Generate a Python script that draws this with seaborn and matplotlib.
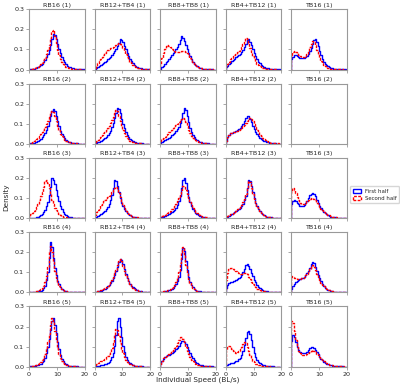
import numpy as np
import pandas as pd
import matplotlib
matplotlib.use("Agg")
import matplotlib.pyplot as plt
from matplotlib.patches import Patch
import seaborn as sns

conditions = ["RB16", "RB12+TB4", "RB8+TB8", "RB4+TB12", "TB16"]
trials = [1, 2, 3, 4, 5]
# speed bin centres (BL/s), bin width 0.5
speed_centres = [0.25, 0.75, 1.25, 1.75, 2.25, 2.75, 3.25, 3.75, 4.25, 4.75,
                 5.25, 5.75, 6.25, 6.75, 7.25, 7.75, 8.25, 8.75, 9.25, 9.75,
                 10.25, 10.75, 11.25, 11.75, 12.25, 12.75, 13.25, 13.75, 14.25, 14.75,
                 15.25, 15.75, 16.25, 16.75, 17.25, 17.75, 18.25, 18.75, 19.25, 19.75]

# density per bin, one list per trial (1..5); None = no data
rb16_first = [
    [0.002,0.003,0.004,0.005, 0.007,0.009,0.012,0.016, 0.021,0.027,0.036,0.046, 0.06,0.076,0.097,0.12,
     0.15,0.175,0.17,0.15, 0.125,0.1,0.08,0.062, 0.047,0.036,0.027,0.02, 0.015,0.011,0.008,0.006,
     0.005,0.004,0.003,0.002, 0.002,0.001,0.001,0.001],
    [0.001,0.002,0.003,0.005, 0.007,0.01,0.014,0.019, 0.025,0.032,0.042,0.054, 0.07,0.09,0.113,0.14,
     0.165,0.175,0.165,0.14, 0.112,0.087,0.066,0.05, 0.037,0.027,0.02,0.015, 0.011,0.008,0.006,0.004,
     0.003,0.002,0.002,0.001, 0.001,0.001,0.001,0.0],
    [0.001,0.001,0.002,0.002, 0.003,0.004,0.006,0.009, 0.013,0.019,0.028,0.04, 0.058,0.082,0.115,0.155,
     0.2,0.192,0.17,0.142, 0.112,0.083,0.06,0.043, 0.03,0.021,0.015,0.01, 0.007,0.005,0.004,0.003,
     0.002,0.001,0.001,0.001, 0.001,0.0,0.0,0.0],
    [0.001,0.001,0.002,0.002, 0.003,0.004,0.005,0.007, 0.009,0.013,0.02,0.033, 0.06,0.1,0.17,0.25,
     0.228,0.17,0.12,0.085, 0.058,0.04,0.027,0.018, 0.012,0.008,0.006,0.004, 0.003,0.002,0.002,0.001,
     0.001,0.001,0.001,0.0, 0.0,0.0,0.0,0.0],
    [0.001,0.002,0.002,0.003, 0.004,0.006,0.008,0.011, 0.015,0.021,0.03,0.045, 0.068,0.1,0.14,0.185,
     0.225,0.24,0.21,0.17, 0.125,0.088,0.06,0.04, 0.027,0.018,0.012,0.008, 0.005,0.004,0.003,0.002,
     0.001,0.001,0.001,0.0, 0.0,0.0,0.0,0.0],
]
rb16_second = [
    [0.002,0.003,0.004,0.006, 0.008,0.011,0.015,0.02, 0.026,0.034,0.045,0.058, 0.075,0.097,0.123,0.155,
     0.19,0.195,0.165,0.13, 0.098,0.072,0.053,0.039, 0.028,0.02,0.015,0.011, 0.008,0.006,0.004,0.003,
     0.002,0.002,0.001,0.001, 0.001,0.001,0.0,0.0],
    [0.003,0.006,0.009,0.013, 0.018,0.024,0.031,0.039, 0.048,0.058,0.07,0.083, 0.098,0.115,0.135,0.153,
     0.165,0.158,0.138,0.115, 0.09,0.068,0.05,0.037, 0.027,0.02,0.015,0.011, 0.008,0.006,0.004,0.003,
     0.002,0.002,0.001,0.001, 0.001,0.001,0.0,0.0],
    [0.012,0.018,0.025,0.033, 0.043,0.055,0.07,0.088, 0.108,0.13,0.155,0.185, 0.19,0.175,0.148,0.118,
     0.092,0.07,0.052,0.038, 0.028,0.02,0.015,0.011, 0.008,0.006,0.004,0.003, 0.002,0.002,0.001,0.001,
     0.001,0.001,0.0,0.0, 0.0,0.0,0.0,0.0],
    [0.001,0.002,0.003,0.004, 0.005,0.007,0.009,0.012, 0.016,0.022,0.032,0.05, 0.08,0.125,0.2,0.23,
     0.2,0.15,0.105,0.072, 0.05,0.034,0.023,0.016, 0.011,0.007,0.005,0.004, 0.003,0.002,0.001,0.001,
     0.001,0.001,0.0,0.0, 0.0,0.0,0.0,0.0],
    [0.002,0.003,0.004,0.005, 0.007,0.009,0.012,0.017, 0.023,0.032,0.045,0.064, 0.09,0.125,0.165,0.21,
     0.24,0.225,0.18,0.135, 0.095,0.065,0.044,0.029, 0.019,0.013,0.009,0.006, 0.004,0.003,0.002,0.002,
     0.001,0.001,0.0,0.0, 0.0,0.0,0.0,0.0],
]
rb12_tb4_first = [
    [0.003,0.008,0.013,0.018, 0.023,0.028,0.033,0.038, 0.044,0.05,0.057,0.064, 0.072,0.081,0.092,0.104,
     0.118,0.134,0.15,0.148, 0.135,0.118,0.1,0.083, 0.067,0.053,0.041,0.032, 0.024,0.018,0.013,0.01,
     0.008,0.006,0.004,0.003, 0.002,0.002,0.001,0.001],
    [0.002,0.004,0.007,0.01, 0.014,0.018,0.023,0.029, 0.036,0.044,0.054,0.066, 0.082,0.102,0.127,0.155,
     0.18,0.175,0.152,0.125, 0.1,0.078,0.06,0.046, 0.035,0.026,0.019,0.014, 0.01,0.008,0.006,0.004,
     0.003,0.002,0.002,0.001, 0.001,0.001,0.0,0.0],
    [0.004,0.007,0.01,0.014, 0.018,0.023,0.029,0.036, 0.045,0.056,0.07,0.088, 0.115,0.15,0.188,0.185,
     0.16,0.13,0.1,0.077, 0.058,0.044,0.033,0.025, 0.018,0.013,0.01,0.007, 0.005,0.004,0.003,0.002,
     0.002,0.001,0.001,0.001, 0.001,0.0,0.0,0.0],
    [0.002,0.003,0.005,0.007, 0.009,0.012,0.015,0.019, 0.024,0.03,0.038,0.047, 0.058,0.072,0.088,0.106,
     0.127,0.15,0.168,0.162, 0.14,0.115,0.092,0.073, 0.057,0.044,0.034,0.026, 0.02,0.015,0.011,0.008,
     0.006,0.005,0.004,0.003, 0.002,0.002,0.001,0.001],
    [0.002,0.003,0.004,0.005, 0.006,0.008,0.01,0.012, 0.015,0.019,0.025,0.034, 0.048,0.07,0.105,0.16,
     0.225,0.24,0.2,0.148, 0.105,0.073,0.05,0.034, 0.023,0.016,0.011,0.008, 0.005,0.004,0.003,0.002,
     0.001,0.001,0.001,0.0, 0.0,0.0,0.0,0.0],
]
rb12_tb4_second = [
    [0.008,0.02,0.032,0.042, 0.052,0.062,0.072,0.082, 0.09,0.097,0.102,0.106, 0.109,0.112,0.116,0.12,
     0.125,0.13,0.128,0.12, 0.108,0.093,0.078,0.063, 0.05,0.04,0.031,0.024, 0.018,0.014,0.01,0.008,
     0.006,0.004,0.003,0.002, 0.002,0.001,0.001,0.001],
    [0.006,0.013,0.02,0.028, 0.036,0.044,0.052,0.061, 0.07,0.08,0.091,0.103, 0.117,0.133,0.152,0.17,
     0.165,0.14,0.112,0.088, 0.068,0.052,0.04,0.03, 0.022,0.016,0.012,0.009, 0.007,0.005,0.004,0.003,
     0.002,0.002,0.001,0.001, 0.001,0.0,0.0,0.0],
    [0.015,0.028,0.04,0.052, 0.063,0.073,0.083,0.092, 0.1,0.106,0.111,0.118, 0.128,0.14,0.152,0.155,
     0.145,0.125,0.103,0.082, 0.063,0.048,0.036,0.027, 0.02,0.015,0.011,0.008, 0.006,0.005,0.004,0.003,
     0.002,0.002,0.001,0.001, 0.001,0.0,0.0,0.0],
    [0.003,0.004,0.006,0.008, 0.011,0.014,0.018,0.022, 0.027,0.034,0.042,0.052, 0.064,0.078,0.095,0.114,
     0.135,0.155,0.165,0.155, 0.132,0.108,0.086,0.068, 0.053,0.041,0.032,0.024, 0.018,0.014,0.01,0.008,
     0.006,0.004,0.003,0.002, 0.002,0.001,0.001,0.001],
    [0.008,0.013,0.018,0.022, 0.026,0.03,0.035,0.04, 0.046,0.053,0.062,0.074, 0.092,0.12,0.158,0.19,
     0.185,0.155,0.12,0.09, 0.066,0.048,0.034,0.024, 0.017,0.012,0.008,0.006, 0.004,0.003,0.002,0.002,
     0.001,0.001,0.0,0.0, 0.0,0.0,0.0,0.0],
]
rb8_tb8_first = [
    [0.004,0.012,0.02,0.028, 0.036,0.044,0.052,0.061, 0.07,0.08,0.09,0.101, 0.114,0.128,0.145,0.165,
     0.158,0.14,0.12,0.1, 0.082,0.066,0.052,0.04, 0.03,0.022,0.016,0.012, 0.009,0.007,0.005,0.004,
     0.003,0.002,0.002,0.001, 0.001,0.001,0.0,0.0],
    [0.006,0.01,0.014,0.018, 0.022,0.026,0.031,0.036, 0.042,0.048,0.055,0.063, 0.073,0.086,0.102,0.122,
     0.152,0.18,0.17,0.14, 0.108,0.08,0.06,0.045, 0.033,0.025,0.018,0.013, 0.01,0.007,0.005,0.004,
     0.003,0.002,0.002,0.001, 0.001,0.001,0.0,0.0],
    [0.004,0.006,0.008,0.01, 0.013,0.016,0.019,0.023, 0.028,0.034,0.042,0.052, 0.066,0.085,0.112,0.15,
     0.19,0.2,0.175,0.138, 0.105,0.079,0.06,0.045, 0.034,0.025,0.019,0.014, 0.01,0.008,0.006,0.004,
     0.003,0.002,0.002,0.001, 0.001,0.001,0.0,0.0],
    [0.002,0.003,0.004,0.005, 0.007,0.009,0.011,0.014, 0.018,0.023,0.03,0.04, 0.055,0.078,0.112,0.165,
     0.22,0.205,0.155,0.11, 0.077,0.054,0.038,0.027, 0.019,0.013,0.009,0.007, 0.005,0.004,0.003,0.002,
     0.002,0.001,0.001,0.001, 0.0,0.0,0.0,0.0],
    [0.015,0.03,0.04,0.047, 0.052,0.056,0.06,0.064, 0.068,0.073,0.079,0.086, 0.095,0.105,0.116,0.126,
     0.13,0.125,0.114,0.1, 0.084,0.068,0.054,0.042, 0.032,0.024,0.018,0.014, 0.01,0.008,0.006,0.004,
     0.003,0.002,0.002,0.001, 0.001,0.001,0.0,0.0],
]
rb8_tb8_second = [
    [0.03,0.055,0.08,0.1, 0.115,0.12,0.117,0.11, 0.102,0.095,0.09,0.088, 0.087,0.087,0.088,0.09,
     0.091,0.09,0.087,0.08, 0.07,0.058,0.046,0.036, 0.028,0.021,0.016,0.012, 0.009,0.007,0.005,0.004,
     0.003,0.002,0.002,0.001, 0.001,0.001,0.0,0.0],
    [0.015,0.022,0.029,0.036, 0.043,0.05,0.057,0.064, 0.071,0.078,0.085,0.092, 0.1,0.108,0.116,0.124,
     0.13,0.125,0.11,0.09, 0.07,0.054,0.041,0.031, 0.024,0.018,0.013,0.01, 0.007,0.005,0.004,0.003,
     0.002,0.002,0.001,0.001, 0.001,0.0,0.0,0.0],
    [0.008,0.011,0.014,0.017, 0.021,0.025,0.03,0.036, 0.043,0.051,0.06,0.071, 0.085,0.1,0.12,0.142,
     0.16,0.158,0.142,0.122, 0.1,0.081,0.065,0.052, 0.041,0.032,0.025,0.019, 0.015,0.011,0.008,0.006,
     0.005,0.004,0.003,0.002, 0.002,0.001,0.001,0.001],
    [0.003,0.004,0.005,0.007, 0.009,0.011,0.014,0.018, 0.023,0.03,0.039,0.052, 0.072,0.1,0.145,0.2,
     0.225,0.185,0.135,0.095, 0.066,0.046,0.032,0.023, 0.016,0.011,0.008,0.006, 0.004,0.003,0.002,0.002,
     0.001,0.001,0.001,0.0, 0.0,0.0,0.0,0.0],
    [0.015,0.03,0.041,0.049, 0.055,0.06,0.065,0.07, 0.076,0.083,0.092,0.103, 0.117,0.133,0.148,0.15,
     0.14,0.122,0.1,0.08, 0.062,0.047,0.035,0.026, 0.019,0.014,0.01,0.007, 0.005,0.004,0.003,0.002,
     0.002,0.001,0.001,0.001, 0.0,0.0,0.0,0.0],
]
rb4_tb12_first = [
    [0.012,0.02,0.028,0.035, 0.042,0.048,0.054,0.06, 0.066,0.072,0.079,0.087, 0.097,0.11,0.128,0.148,
     0.15,0.138,0.12,0.1, 0.082,0.066,0.052,0.04, 0.031,0.024,0.018,0.014, 0.01,0.008,0.006,0.004,
     0.003,0.002,0.002,0.001, 0.001,0.001,0.001,0.0],
    [0.015,0.035,0.046,0.052, 0.055,0.057,0.06,0.063, 0.067,0.072,0.079,0.088, 0.1,0.114,0.13,0.14,
     0.137,0.125,0.108,0.09, 0.074,0.06,0.048,0.039, 0.031,0.025,0.02,0.016, 0.012,0.009,0.007,0.005,
     0.004,0.003,0.002,0.002, 0.001,0.001,0.001,0.0],
    [0.005,0.008,0.011,0.015, 0.019,0.023,0.028,0.033, 0.038,0.044,0.051,0.06, 0.072,0.088,0.112,0.148,
     0.19,0.185,0.158,0.128, 0.1,0.077,0.059,0.045, 0.034,0.026,0.02,0.015, 0.011,0.008,0.006,0.005,
     0.004,0.003,0.002,0.002, 0.001,0.001,0.001,0.0],
    [0.02,0.035,0.045,0.05, 0.053,0.056,0.059,0.062, 0.066,0.071,0.078,0.087, 0.1,0.118,0.138,0.14,
     0.13,0.115,0.098,0.08, 0.064,0.05,0.038,0.029, 0.022,0.016,0.012,0.009, 0.007,0.005,0.004,0.003,
     0.002,0.002,0.001,0.001, 0.001,0.0,0.0,0.0],
    [0.006,0.01,0.013,0.016, 0.018,0.02,0.023,0.026, 0.03,0.036,0.045,0.06, 0.08,0.108,0.145,0.175,
     0.18,0.165,0.135,0.1, 0.07,0.048,0.033,0.023, 0.016,0.011,0.008,0.006, 0.004,0.003,0.002,0.002,
     0.001,0.001,0.001,0.0, 0.0,0.0,0.0,0.0],
]
rb4_tb12_second = [
    [0.018,0.03,0.04,0.05, 0.058,0.065,0.072,0.079, 0.086,0.094,0.103,0.114, 0.128,0.143,0.155,0.15,
     0.13,0.108,0.087,0.068, 0.052,0.04,0.03,0.022, 0.016,0.012,0.009,0.007, 0.005,0.004,0.003,0.002,
     0.002,0.001,0.001,0.001, 0.001,0.0,0.0,0.0],
    [0.015,0.035,0.046,0.052, 0.055,0.057,0.059,0.062, 0.065,0.069,0.074,0.08, 0.087,0.095,0.105,0.115,
     0.125,0.13,0.126,0.115, 0.1,0.085,0.07,0.057, 0.046,0.037,0.029,0.023, 0.018,0.014,0.011,0.008,
     0.006,0.005,0.004,0.003, 0.002,0.002,0.001,0.001],
    [0.007,0.01,0.014,0.018, 0.022,0.027,0.032,0.037, 0.043,0.05,0.057,0.066, 0.078,0.094,0.118,0.152,
     0.185,0.18,0.152,0.122, 0.095,0.073,0.056,0.043, 0.033,0.025,0.019,0.014, 0.011,0.008,0.006,0.005,
     0.004,0.003,0.002,0.002, 0.001,0.001,0.001,0.0],
    [0.06,0.095,0.115,0.122, 0.122,0.118,0.112,0.106, 0.101,0.097,0.094,0.093, 0.095,0.098,0.097,0.09,
     0.078,0.065,0.052,0.041, 0.032,0.025,0.019,0.015, 0.011,0.008,0.006,0.005, 0.004,0.003,0.002,0.002,
     0.001,0.001,0.001,0.0, 0.0,0.0,0.0,0.0],
    [0.085,0.1,0.105,0.098, 0.088,0.078,0.072,0.07, 0.072,0.078,0.088,0.1, 0.115,0.125,0.12,0.1,
     0.078,0.058,0.042,0.03, 0.021,0.015,0.011,0.008, 0.006,0.004,0.003,0.002, 0.002,0.001,0.001,0.001,
     0.0,0.0,0.0,0.0, 0.0,0.0,0.0,0.0],
]
tb16_first = [
    [0.05,0.062,0.07,0.07, 0.066,0.062,0.058,0.056, 0.056,0.058,0.062,0.068, 0.078,0.092,0.108,0.126,
     0.145,0.15,0.138,0.115, 0.09,0.07,0.053,0.04, 0.03,0.022,0.016,0.012, 0.009,0.007,0.005,0.004,
     0.003,0.002,0.002,0.001, 0.001,0.001,0.001,0.0],
    None,
    [0.07,0.085,0.09,0.085, 0.076,0.068,0.062,0.06, 0.062,0.067,0.075,0.086, 0.1,0.113,0.122,0.125,
     0.12,0.108,0.092,0.076, 0.062,0.05,0.04,0.032, 0.025,0.019,0.015,0.011, 0.008,0.006,0.005,0.004,
     0.003,0.002,0.002,0.001, 0.001,0.001,0.0,0.0],
    [0.015,0.03,0.042,0.052, 0.058,0.063,0.067,0.07, 0.074,0.079,0.086,0.095, 0.107,0.122,0.14,0.15,
     0.145,0.128,0.108,0.088, 0.07,0.055,0.042,0.032, 0.024,0.018,0.014,0.01, 0.008,0.006,0.004,0.003,
     0.002,0.002,0.001,0.001, 0.001,0.0,0.0,0.0],
    [0.13,0.16,0.15,0.125, 0.1,0.085,0.075,0.07, 0.068,0.068,0.07,0.075, 0.085,0.095,0.1,0.099,
     0.093,0.083,0.072,0.061, 0.05,0.04,0.032,0.025, 0.019,0.015,0.011,0.009, 0.007,0.005,0.004,0.003,
     0.002,0.002,0.001,0.001, 0.001,0.0,0.0,0.0],
]
tb16_second = [
    [0.07,0.085,0.09,0.088, 0.08,0.072,0.065,0.061, 0.06,0.062,0.068,0.078, 0.092,0.11,0.128,0.14,
     0.138,0.12,0.098,0.077, 0.058,0.044,0.033,0.025, 0.018,0.013,0.01,0.007, 0.005,0.004,0.003,0.002,
     0.002,0.001,0.001,0.001, 0.001,0.0,0.0,0.0],
    None,
    [0.13,0.15,0.142,0.125, 0.105,0.088,0.077,0.071, 0.07,0.072,0.077,0.083, 0.09,0.096,0.1,0.1,
     0.096,0.088,0.077,0.066, 0.056,0.047,0.039,0.032, 0.026,0.021,0.016,0.013, 0.01,0.008,0.006,0.005,
     0.004,0.003,0.002,0.002, 0.001,0.001,0.001,0.0],
    [0.082,0.078,0.074,0.071, 0.069,0.068,0.068,0.07, 0.073,0.078,0.085,0.094, 0.105,0.118,0.13,0.135,
     0.128,0.112,0.094,0.077, 0.062,0.049,0.038,0.03, 0.023,0.018,0.013,0.01, 0.008,0.006,0.004,0.003,
     0.002,0.002,0.001,0.001, 0.001,0.0,0.0,0.0],
    [0.225,0.22,0.18,0.135, 0.1,0.08,0.068,0.062, 0.058,0.057,0.059,0.063, 0.069,0.075,0.08,0.081,
     0.078,0.072,0.064,0.056, 0.047,0.039,0.032,0.026, 0.021,0.016,0.013,0.01, 0.008,0.006,0.005,0.004,
     0.003,0.002,0.002,0.001, 0.001,0.001,0.0,0.0],
]

first_half = [rb16_first, rb12_tb4_first, rb8_tb8_first, rb4_tb12_first, tb16_first]
second_half = [rb16_second, rb12_tb4_second, rb8_tb8_second, rb4_tb12_second, tb16_second]

sns.set_style("white")
plt.rcParams["font.family"] = ["DejaVu Sans"]

fig, axes = plt.subplots(5, 5, figsize=(4.0, 3.87), dpi=100, sharex=True, sharey=True)
fig.subplots_adjust(left=0.0725, right=0.8675, bottom=0.0525, top=0.976,
                    wspace=0.17, hspace=0.233)

bin_edges = [float(e) for e in np.arange(-0.5, 20.75, 0.5)]
spine_col = "0.6"
dash = (0, (2.0, 1.0))

for r, trial in enumerate(trials):
    for c, cond in enumerate(conditions):
        ax = axes[r, c]
        for series, color, ls in ((first_half, "blue", "-"),
                                  (second_half, "red", dash)):
            vals = series[c][r]
            if vals is None:
                continue
            df = pd.DataFrame({"speed": speed_centres, "density": vals})
            sns.histplot(data=df, x="speed", weights="density", bins=bin_edges,
                         stat="count", element="step", fill=False,
                         color=color, linestyle=ls, linewidth=1.0, ax=ax)
        ax.set_xlim(0, 20)
        ax.set_ylim(0, 0.3)
        ax.set_xlabel("")
        ax.set_ylabel("")
        ax.set_title(f"{cond} ({trial})", fontsize=4.6, pad=2)
        ax.set_xticks([0, 10, 20])
        ax.set_yticks([0.0, 0.1, 0.2, 0.3])
        ax.tick_params(axis="both", labelsize=4.6, length=2, width=0.6,
                       color=spine_col, pad=1.5, left=True, bottom=True)
        for sp in ax.spines.values():
            sp.set_color(spine_col)
            sp.set_linewidth(0.8)

for ax in axes[:, 0]:
    ax.yaxis.set_major_formatter(matplotlib.ticker.FormatStrFormatter("%.1f"))

fig.text(0.015, 0.49, "Density", rotation=90, ha="center", va="center", fontsize=5.2)
fig.text(0.495, 0.018, "Individual Speed (BL/s)", ha="center", va="center", fontsize=5.2)

handles = [Patch(facecolor="none", edgecolor="blue", linewidth=1.0, label="First half"),
           Patch(facecolor="none", edgecolor="red", linewidth=1.0,
                 linestyle=dash, label="Second half")]
fig.legend(handles=handles, loc="center left", bbox_to_anchor=(0.872, 0.497),
           fontsize=3.9, frameon=True, handlelength=1.6, handleheight=0.8,
           borderpad=0.5, labelspacing=0.35, handletextpad=0.6, edgecolor="0.8",
           fancybox=True, borderaxespad=0.2)

fig.savefig("out.png", dpi=100)
